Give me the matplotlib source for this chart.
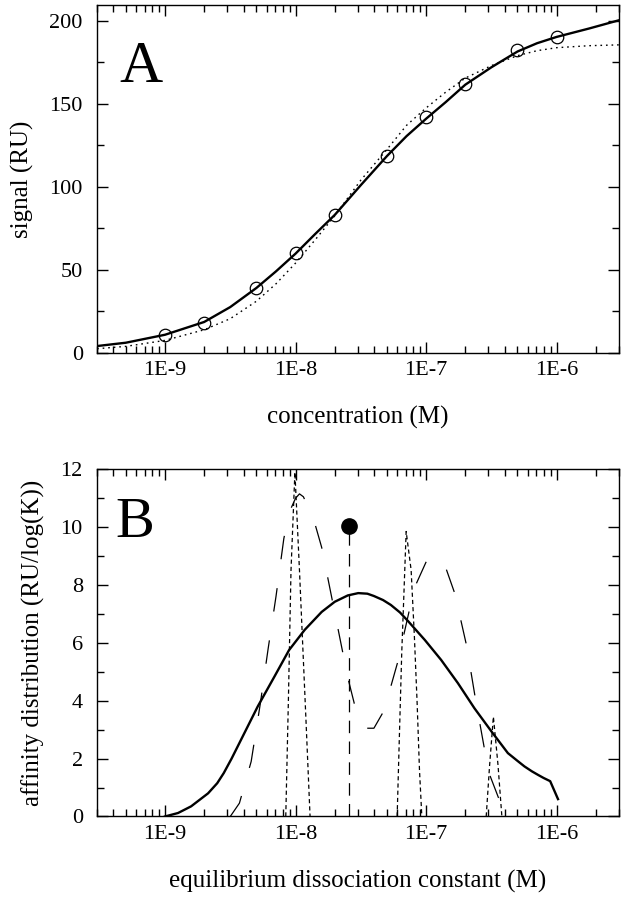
import numpy as np
import matplotlib
matplotlib.use('Agg')
import matplotlib.pyplot as plt
from matplotlib.ticker import FixedLocator, FixedFormatter, LogLocator, MultipleLocator, NullFormatter

plt.rcParams['font.family'] = ['Liberation Serif', 'DejaVu Serif']
plt.rcParams['lines.scale_dashes'] = False

# Panel A: measured binding signal vs concentration
conc_pts = [1e-9, 2e-9, 5e-9, 1e-8, 2e-8, 5e-8, 1e-7, 2e-7, 5e-7, 1e-6]
signal_pts = [10.5, 17.9, 39.2, 60.1, 82.8, 118.6, 142.1, 162.2, 182.3, 190.3]

# fitted curves (log10 concentration, signal)
fit_logc = [-9.52, -9.3, -9.0, -8.7, -8.5, -8.3, -8.15, -8.0, -7.85, -7.7, -7.5,
            -7.3, -7.15, -7.0, -6.85, -6.7, -6.5, -6.3, -6.15, -6.0, -5.75, -5.52]
fit_dist = [4.0, 6.0, 10.8, 18.5, 27.5, 39.0, 49.0, 59.7, 71.5, 83.0, 101.0,
            118.5, 130.5, 141.0, 151.0, 161.5, 172.0, 181.5, 186.5, 190.3, 195.4, 200.4]
fit_single = [2.4, 3.8, 7.4, 13.8, 20.5, 31.0, 41.5, 54.0, 68.0, 82.5, 104.0,
              122.5, 137.0, 147.5, 157.0, 165.5, 173.0, 179.0, 182.0, 183.8, 185.0, 185.5]

# Panel B: affinity distributions (log10 KD, RU/log(K))
dist_logk = [-9.0, -8.9, -8.8, -8.67, -8.6, -8.55, -8.49, -8.44, -8.39, -8.34, -8.29,
             -8.16, -8.05, -7.93, -7.8, -7.7, -7.6, -7.52, -7.45, -7.4, -7.33, -7.27,
             -7.2, -7.14, -7.01, -6.885, -6.757, -6.63, -6.5, -6.374, -6.3, -6.247,
             -6.19, -6.144, -6.1, -6.05, -5.99]
dist_val = [0.0, 0.12, 0.35, 0.8, 1.15, 1.5, 2.0, 2.45, 2.9, 3.35, 3.8,
            4.85, 5.75, 6.45, 7.07, 7.42, 7.64, 7.72, 7.7, 7.62, 7.48, 7.31,
            7.05, 6.76, 6.1, 5.41, 4.61, 3.74, 2.94, 2.19, 1.92, 1.73,
            1.56, 1.44, 1.33, 1.22, 0.6]

long_logk = [-8.5, -8.43, -8.34, -8.27, -8.21, -8.15, -8.09, -8.05, -8.0, -7.97, -7.94,
             -7.86, -7.8, -7.72, -7.64, -7.6, -7.55, -7.47, -7.4, -7.33, -7.27, -7.22,
             -7.13, -7.08, -6.99, -6.93, -6.85, -6.78, -6.69, -6.62, -6.55, -6.51, -6.43, -6.41]
long_val = [0.0, 0.46, 1.9, 3.9, 5.8, 7.6, 9.6, 10.5, 11.0, 11.15, 11.05,
            10.25, 9.3, 7.5, 5.7, 4.8, 3.9, 3.05, 3.05, 3.6, 4.5, 5.3,
            7.1, 8.0, 8.9, 9.0, 8.6, 7.7, 5.9, 4.0, 2.25, 1.4, 0.46, 0.3]

short_logk = [-8.075, -8.055, -8.035, -8.005, -7.97, -7.92, -7.889, np.nan,
              -7.222, -7.205, -7.187, -7.171, -7.153, -7.115, -7.09, -7.069, -7.051, -7.033, np.nan,
              -6.54, -6.515, -6.485, -6.45, -6.42]
short_val = [0.0, 4.0, 8.5, 11.9, 8.5, 3.3, 0.0, np.nan,
             0.0, 2.76, 5.64, 7.6, 9.85, 8.52, 6.22, 3.92, 1.61, 0.0, np.nan,
             0.0, 1.7, 3.45, 1.8, 0.0]

single_kd = 2.55e-8
single_val = 10.05

fig = plt.figure(figsize=(6.24, 8.99), dpi=100)
ax1 = fig.add_axes([0.155, 0.6077, 0.837, 0.3867])
ax2 = fig.add_axes([0.155, 0.0918, 0.837, 0.3862])

ax1.plot(10.0 ** np.array(fit_logc), fit_single, color='black', lw=1.0, linestyle=(0, (1.2, 2.8)))
ax1.plot(10.0 ** np.array(fit_logc), fit_dist, color='black', lw=1.7)
ax1.plot(conc_pts, signal_pts, 'o', ms=9, mfc='none', mec='black', mew=0.9)

ax2.plot(10.0 ** np.array(dist_logk), dist_val, color='black', lw=1.7)
ax2.plot(10.0 ** np.array(long_logk), long_val, color='black', lw=0.9, linestyle=(0, (17, 21)))
ax2.plot(10.0 ** np.array(short_logk), short_val, color='black', lw=0.9, linestyle=(0, (3, 2.2)))
ax2.plot([single_kd, single_kd], [0, single_val], color='black', lw=0.9, linestyle=(0, (9, 6)))
ax2.plot([single_kd], [single_val], 'o', ms=11, color='black')

for ax in (ax1, ax2):
    ax.set_xscale('log')
    ax.set_xlim(3e-10, 3e-6)
    ax.xaxis.set_major_locator(FixedLocator([1e-9, 1e-8, 1e-7, 1e-6]))
    ax.xaxis.set_major_formatter(FixedFormatter(['1E-9', '1E-8', '1E-7', '1E-6']))
    ax.xaxis.set_minor_locator(LogLocator(base=10, subs=np.arange(2, 10), numticks=20))
    ax.xaxis.set_minor_formatter(NullFormatter())
    ax.tick_params(which='both', direction='in', top=True, right=True, width=1.0, labelsize=16)
    ax.tick_params(which='major', length=8)
    ax.tick_params(which='minor', length=5)
    ax.tick_params(axis='x', which='major', pad=6)
    ax.tick_params(axis='y', which='major', pad=10)
    for s in ax.spines.values():
        s.set_linewidth(1.0)

ax1.set_ylim(0, 209.5)
ax1.yaxis.set_major_locator(MultipleLocator(50))
ax1.yaxis.set_minor_locator(MultipleLocator(25))
ax1.set_xlabel('concentration (M)', fontsize=18, labelpad=19)
ax1.set_ylabel('signal (RU)', fontsize=18, labelpad=11)
ax1.text(0.043, 0.779, 'A', transform=ax1.transAxes, fontsize=43, va='baseline', ha='left')

ax2.set_ylim(0, 12)
ax2.yaxis.set_major_locator(MultipleLocator(2))
ax2.yaxis.set_minor_locator(MultipleLocator(1))
ax2.set_xlabel('equilibrium dissociation constant (M)', fontsize=18, labelpad=19)
ax2.set_ylabel('affinity distribution (RU/log(K))', fontsize=18, labelpad=11)
ax2.text(0.035, 0.806, 'B', transform=ax2.transAxes, fontsize=42, va='baseline', ha='left')

fig.savefig('out.png', dpi=100)
